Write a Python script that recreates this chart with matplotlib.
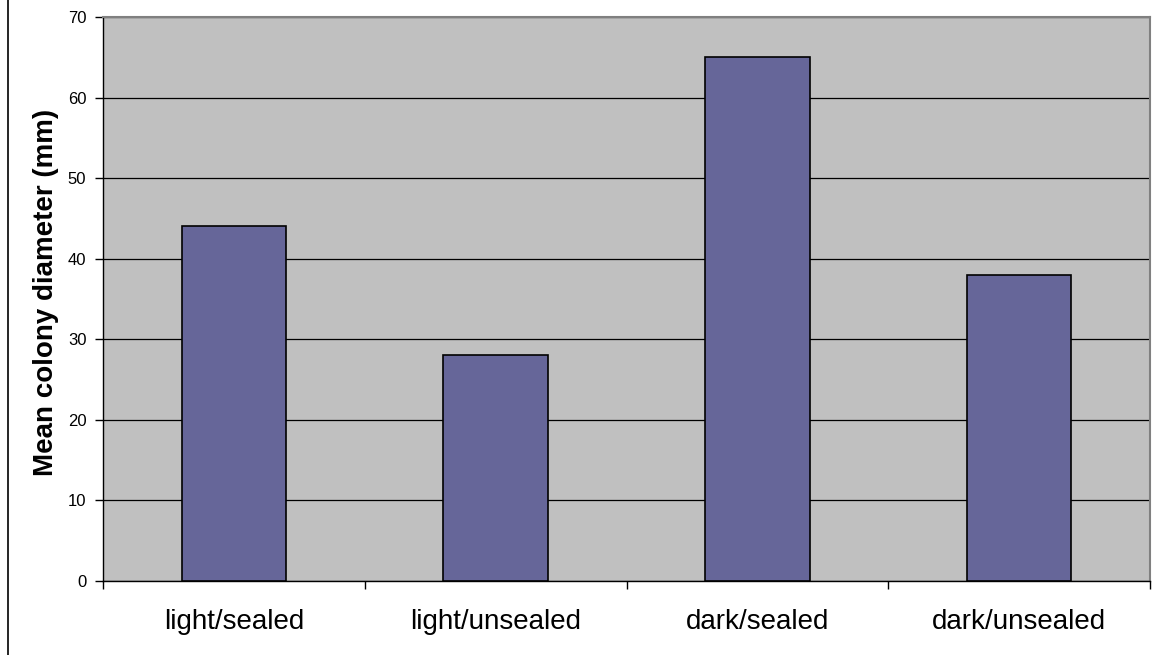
import matplotlib
matplotlib.use("Agg")
import matplotlib.pyplot as plt
import numpy as np
from matplotlib.lines import Line2D

plt.rcParams['font.family'] = ['Liberation Sans', 'DejaVu Sans']

## data ##
categories = ["light/sealed", "light/unsealed", "dark/sealed", "dark/unsealed"]
diameter = [44, 28, 65, 38]
y_ticks = [0, 10, 20, 30, 40, 50, 60, 70]

fig = plt.figure(figsize=(11.62, 6.55), dpi=100)
ax = fig.add_axes([103/1162, 1 - 581/655, (1150 - 103)/1162, (581 - 17)/655])
ax.set_facecolor("#C0C0C0")

x = np.arange(len(categories))
ax.bar(x, diameter, width=0.4, color="#666699", edgecolor="black", linewidth=1.2, zorder=3)

# grid #
ax.set_ylim(0, 70)
ax.set_xlim(-0.5, len(categories) - 0.5)
ax.set_yticks(y_ticks)
ax.set_yticklabels([str(t) for t in y_ticks], fontsize=12)
ax.yaxis.grid(True, color="black", linewidth=0.9, zorder=1)
ax.set_axisbelow(True)

ax.set_xticks(x)
ax.set_xticklabels(categories, fontsize=20)
ax.tick_params(axis="x", which="major", length=0, pad=20)
ax.set_xticks(np.arange(-0.5, len(categories)), minor=True)
ax.tick_params(axis="x", which="minor", length=6, width=1, color="black")
ax.tick_params(axis="y", length=6, width=1, color="black", pad=6)

for s in ["top", "right"]:
    ax.spines[s].set_color("#808080")
    ax.spines[s].set_linewidth(1.5)
for s in ["left", "bottom"]:
    ax.spines[s].set_color("black")
    ax.spines[s].set_linewidth(1)

ax.set_ylabel("Mean colony diameter (mm)", fontsize=20, fontweight="bold")
ax.yaxis.set_label_coords(-0.0425, 0.5115)

# chart area border (left edge visible) #
fig.add_artist(Line2D([7.5/1162, 7.5/1162], [0, 1], color="black", linewidth=1.2))

fig.savefig("out.png", dpi=100)
